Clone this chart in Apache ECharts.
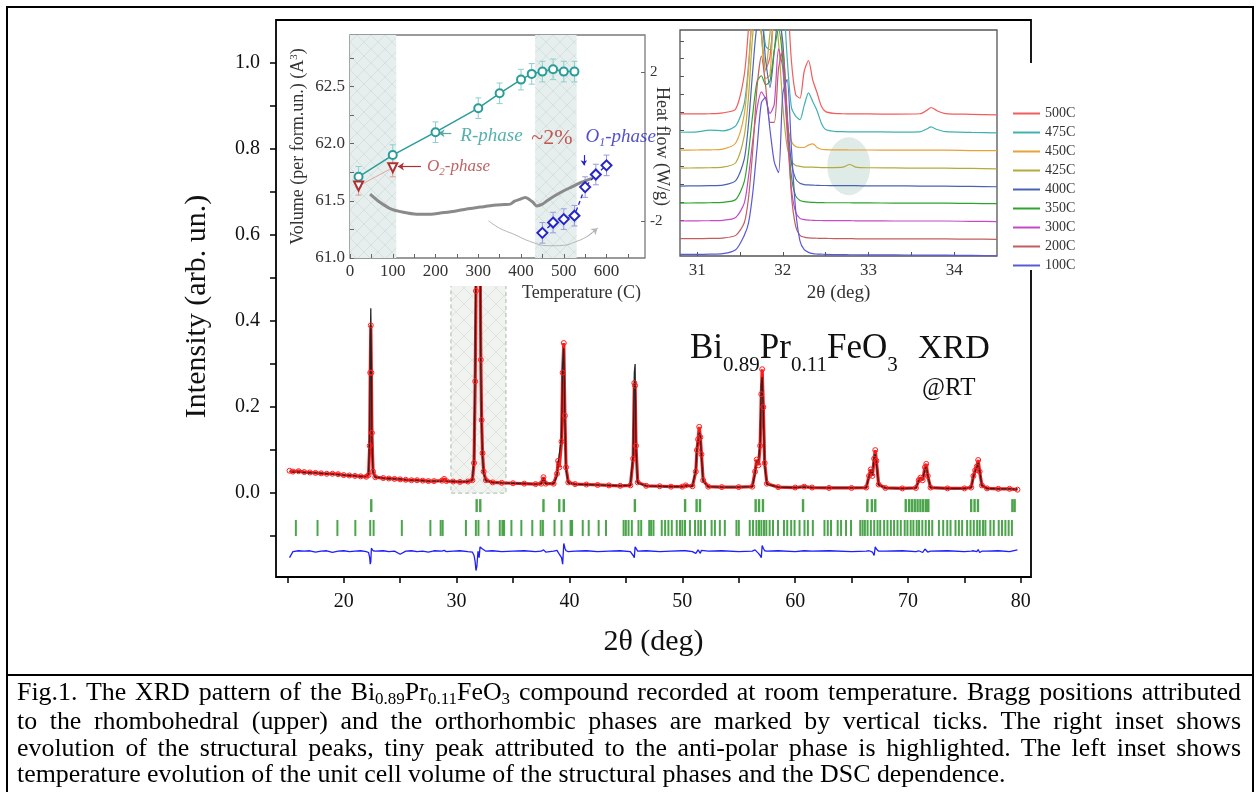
<!DOCTYPE html>
<html>
<head>
<meta charset="utf-8">
<title>Bi0.89Pr0.11FeO3 XRD</title>
<script src="https://cdn.jsdelivr.net/npm/echarts@6.0.0/dist/echarts.min.js"></script>
<style>
  html, body { margin: 0; padding: 0; background: #fff; }
  #page { position: relative; width: 1259px; height: 792px; overflow: hidden; }
  #chart { position: absolute; left: 0; top: 0; width: 1259px; height: 792px; }
  .rule { position: absolute; background: #000; }
  #caption { position: absolute; left: 17px; top: 679px; width: 1224px;
    font-family: 'Liberation Serif', serif; font-size: 25.9px; line-height: 26.3px; color: #000; }
  #caption div { text-align: justify; text-align-last: justify; white-space: nowrap; }
  #caption div.last { text-align-last: left; }
  #caption sub { font-size: 17px; vertical-align: baseline; position: relative; top: 4px; }
</style>
</head>
<body>
<div id="page">
  <div id="chart"></div>
  <div class="rule" style="left:6px;top:6px;width:2px;height:786px"></div>
  <div class="rule" style="left:6px;top:6px;width:1248px;height:2px"></div>
  <div class="rule" style="left:1252px;top:6px;width:2px;height:786px"></div>
  <div class="rule" style="left:6px;top:674px;width:1248px;height:2px"></div>
  <div id="caption">
    <div>Fig.1. The XRD pattern of the Bi<sub>0.89</sub>Pr<sub>0.11</sub>FeO<sub>3</sub> compound recorded at room temperature. Bragg positions attributed</div>
    <div>to the rhombohedral (upper) and the orthorhombic phases are marked by vertical ticks. The right inset shows</div>
    <div>evolution of the structural peaks, tiny peak attributed to the anti-polar phase is highlighted. The left inset shows</div>
    <div class="last">temperature evolution of the unit cell volume of the structural phases and the DSC dependence.</div>
  </div>
</div>
<script>
// ---- main pattern: 2theta, observed, calculated, difference
const xrdTheta = [15.2, 15.5, 16.0, 16.5, 17.0, 17.5, 18.0, 18.5, 19.0, 19.5, 20.0, 20.5, 21.0, 21.5, 22.0, 22.2, 22.3, 22.35, 22.4, 22.45,
  22.5, 22.6, 22.8, 23.5, 24.0, 24.5, 25.0, 25.5, 26.0, 26.5, 27.0, 27.5, 28.0, 28.7, 28.9, 29.1, 29.7, 30.3, 31.0, 31.4,
  31.55, 31.65, 31.72, 31.8, 31.9, 32.0, 32.08, 32.15, 32.22, 32.3, 32.4, 32.6, 33.2, 34.0, 35.0, 36.0, 37.0, 37.5, 37.7, 37.9,
  38.6, 38.9, 39.0, 39.1, 39.3, 39.4, 39.5, 39.6, 39.7, 39.9, 40.5, 41.5, 42.5, 43.5, 44.5, 45.4, 45.65, 45.75, 45.82, 45.9,
  46.05, 46.8, 48.0, 49.0, 50.0, 50.3, 50.9, 51.2, 51.3, 51.4, 51.5, 51.6, 51.7, 51.85, 52.3, 53.5, 55.0, 56.2, 56.45, 56.6,
  56.75, 56.9, 57.0, 57.08, 57.18, 57.3, 57.5, 58.5, 60.0, 60.8, 61.5, 63.0, 65.0, 66.3, 66.55, 66.7, 66.85, 67.0, 67.1, 67.2,
  67.4, 68.0, 69.5, 70.7, 70.95, 71.1, 71.3, 71.5, 71.62, 71.75, 72.0, 73.5, 75.0, 75.6, 75.8, 75.95, 76.1, 76.22, 76.35, 76.55,
  77.0, 78.0, 79.0, 79.7];
const xrdObs = [0.052, 0.050, 0.051, 0.049, 0.048, 0.047, 0.046, 0.045, 0.045, 0.044, 0.042, 0.041, 0.040, 0.039, 0.038, 0.042, 0.110, 0.280, 0.390, 0.280,
  0.140, 0.050, 0.037, 0.035, 0.034, 0.033, 0.032, 0.031, 0.030, 0.030, 0.029, 0.028, 0.028, 0.029, 0.033, 0.028, 0.027, 0.026, 0.027, 0.030,
  0.070, 0.260, 0.470, 0.850, 1.000, 0.900, 0.600, 0.310, 0.170, 0.093, 0.050, 0.030, 0.025, 0.024, 0.023, 0.022, 0.021, 0.022, 0.037, 0.022,
  0.022, 0.045, 0.075, 0.060, 0.120, 0.280, 0.349, 0.180, 0.060, 0.025, 0.021, 0.020, 0.019, 0.018, 0.017, 0.018, 0.080, 0.256, 0.250, 0.110,
  0.025, 0.017, 0.016, 0.015, 0.015, 0.018, 0.016, 0.050, 0.100, 0.125, 0.154, 0.130, 0.090, 0.030, 0.015, 0.014, 0.014, 0.015, 0.050, 0.078,
  0.065, 0.110, 0.230, 0.288, 0.200, 0.070, 0.022, 0.014, 0.013, 0.015, 0.013, 0.012, 0.012, 0.013, 0.040, 0.055, 0.040, 0.080, 0.100, 0.075,
  0.020, 0.012, 0.011, 0.012, 0.030, 0.036, 0.030, 0.060, 0.068, 0.040, 0.013, 0.011, 0.011, 0.013, 0.040, 0.053, 0.062, 0.077, 0.050, 0.018,
  0.011, 0.010, 0.010, 0.008];
const xrdCalc = [0.050, 0.049, 0.049, 0.048, 0.047, 0.047, 0.046, 0.045, 0.044, 0.043, 0.042, 0.041, 0.040, 0.039, 0.039, 0.045, 0.140, 0.330, 0.430, 0.300,
  0.120, 0.048, 0.037, 0.035, 0.034, 0.033, 0.033, 0.031, 0.030, 0.030, 0.029, 0.028, 0.028, 0.028, 0.031, 0.028, 0.027, 0.026, 0.027, 0.031,
  0.080, 0.300, 0.560, 0.900, 1.000, 0.920, 0.580, 0.290, 0.160, 0.085, 0.045, 0.029, 0.025, 0.024, 0.023, 0.022, 0.021, 0.022, 0.034, 0.022,
  0.022, 0.040, 0.070, 0.066, 0.130, 0.300, 0.337, 0.170, 0.055, 0.024, 0.021, 0.020, 0.019, 0.018, 0.017, 0.018, 0.090, 0.280, 0.300, 0.100,
  0.024, 0.017, 0.016, 0.015, 0.015, 0.017, 0.016, 0.055, 0.105, 0.120, 0.140, 0.135, 0.085, 0.028, 0.015, 0.014, 0.014, 0.015, 0.045, 0.075,
  0.070, 0.120, 0.250, 0.270, 0.190, 0.065, 0.021, 0.014, 0.013, 0.014, 0.013, 0.012, 0.012, 0.013, 0.038, 0.052, 0.042, 0.085, 0.090, 0.070,
  0.019, 0.012, 0.011, 0.012, 0.028, 0.035, 0.032, 0.055, 0.062, 0.042, 0.013, 0.011, 0.011, 0.013, 0.038, 0.050, 0.060, 0.072, 0.052, 0.018,
  0.011, 0.010, 0.010, 0.009];
const xrdDiff = [-0.150, -0.136, -0.134, -0.135, -0.134, -0.137, -0.135, -0.134, -0.138, -0.135, -0.134, -0.136, -0.135, -0.134, -0.136, -0.138, -0.150, -0.165, -0.160, -0.128,
  -0.125, -0.134, -0.135, -0.134, -0.136, -0.135, -0.142, -0.135, -0.134, -0.136, -0.135, -0.137, -0.134, -0.135, -0.133, -0.136, -0.135, -0.134, -0.136, -0.137,
  -0.145, -0.160, -0.180, -0.170, -0.135, -0.150, -0.125, -0.122, -0.128, -0.130, -0.134, -0.135, -0.134, -0.136, -0.135, -0.134, -0.136, -0.135, -0.132, -0.137,
  -0.135, -0.133, -0.130, -0.142, -0.150, -0.165, -0.117, -0.128, -0.134, -0.136, -0.135, -0.134, -0.136, -0.135, -0.134, -0.136, -0.145, -0.150, -0.125, -0.128,
  -0.135, -0.134, -0.136, -0.135, -0.134, -0.134, -0.136, -0.140, -0.138, -0.132, -0.128, -0.140, -0.133, -0.135, -0.135, -0.134, -0.136, -0.135, -0.132, -0.134,
  -0.140, -0.145, -0.150, -0.122, -0.128, -0.134, -0.135, -0.134, -0.136, -0.134, -0.135, -0.134, -0.136, -0.135, -0.134, -0.133, -0.137, -0.145, -0.125, -0.130,
  -0.135, -0.135, -0.134, -0.136, -0.134, -0.133, -0.138, -0.130, -0.131, -0.137, -0.135, -0.134, -0.136, -0.135, -0.134, -0.133, -0.136, -0.131, -0.138, -0.135,
  -0.135, -0.134, -0.136, -0.132];

// Bragg positions: rhombohedral (upper row) and orthorhombic (lower row)
const braggR = [22.44, 31.78, 32.1, 37.7, 39.1, 39.5, 45.8, 50.25, 51.27, 51.57, 56.5, 56.8, 57.15, 60.7, 66.4, 66.8, 67.1,
  69.8, 70.1, 70.35, 70.6, 70.85, 71.1, 71.35, 71.6, 71.8, 75.6, 75.9, 76.2, 79.25, 79.45];
const braggO = [15.76, 17.68, 19.44, 21.03, 22.35, 22.65, 25.15, 27.68, 28.59, 28.77, 30.83, 31.71, 31.94, 32.83, 33.83, 34.06, 34.21,
  34.86, 35.74, 36.71, 37.45, 37.65, 38.68, 39.3, 40.1, 40.24, 41.18, 41.71, 42.59, 43.24, 44.8, 45.0, 45.24, 45.53, 46.12, 46.36,
  47.07, 47.24, 47.45, 48.18, 48.48, 48.77, 49.07, 49.51, 49.8, 50.01, 50.24, 50.68, 51.13, 51.42, 51.65, 52.01, 52.6, 52.89, 53.33,
  53.77, 54.8, 55.01, 55.98, 56.27, 56.57, 56.8, 57.01, 57.24, 57.45, 57.74, 58.04, 58.48, 59.01, 59.3, 59.65, 59.95, 60.39, 60.83,
  61.13, 61.57, 62.6, 62.89, 63.18, 63.77, 64.07, 64.51, 64.95, 65.77, 65.98, 66.18, 66.42, 66.71, 67.01, 67.3, 67.54, 67.89, 68.18,
  68.48, 68.77, 69.07, 69.36, 69.71, 69.95, 70.24, 70.48, 70.77, 70.98, 71.27, 71.57, 71.86, 72.15, 72.74, 73.12, 73.48, 73.77, 74.21,
  74.51, 74.8, 75.24, 75.54, 75.83, 76.13, 76.36, 76.65, 76.86, 77.3, 77.6, 78.04, 78.33, 78.63, 78.92, 79.21];
const zoomBox = [29.5, 34.38, 0, 0.6];   // hatched region shown in the right inset

const mainXLabels = [20, 30, 40, 50, 60, 70, 80];
const mainXTicks = [15, 20, 25, 30, 35, 40, 45, 50, 55, 60, 65, 70, 75, 80];
const mainYLabels = [0, 0.2, 0.4, 0.6, 0.8, 1.0];
const mainYTicks = [-0.1, 0, 0.1, 0.2, 0.3, 0.4, 0.5, 0.6, 0.7, 0.8, 0.9, 1.0];

// ---- left inset: cell volume vs temperature, DSC
const rTemp = [20, 100, 200, 300, 350, 400, 425, 450, 475, 500, 525];
const rVol = [61.71, 61.90, 62.10, 62.31, 62.44, 62.56, 62.61, 62.63, 62.65, 62.63, 62.63];
const rErr = [0.09, 0.09, 0.09, 0.09, 0.09, 0.09, 0.09, 0.09, 0.09, 0.09, 0.09];
const o2Temp = [20, 100];
const o2Vol = [61.63, 61.79];
const o2Err = [0.08, 0.08];
const o1Temp = [450, 475, 500, 525, 550, 575, 600];
const o1Vol = [61.22, 61.31, 61.34, 61.37, 61.62, 61.73, 61.81];
const o1Err = [0.09, 0.09, 0.09, 0.09, 0.09, 0.09, 0.09];
const dscTemp = [47, 70, 94, 125, 156, 190, 211, 245, 273, 305, 336, 360, 375, 385, 395, 410, 420, 428, 437, 450, 461, 480, 500, 520, 539, 552, 566];
const dscFlow = [-1.28, -1.5, -1.67, -1.77, -1.82, -1.82, -1.79, -1.74, -1.68, -1.63, -1.58, -1.56, -1.55, -1.47, -1.43, -1.37, -1.43, -1.5, -1.6, -1.55, -1.46, -1.32, -1.19, -1.08, -0.97, -0.92, -0.86];
const arcTemp = [324, 350, 383, 420, 461, 500, 524, 555, 579];
const arcFlow = [-2.0, -2.2, -2.36, -2.55, -2.67, -2.66, -2.58, -2.42, -2.2];
const phaseBands = [[0, 108], [433, 530]];
const tempLabels = [0, 100, 200, 300, 400, 500, 600];
const tempTicks = [0, 50, 100, 150, 200, 250, 300, 350, 400, 450, 500, 550, 600, 650];
const volLabels = [61.0, 61.5, 62.0, 62.5];
const volTicks = [61.0, 61.25, 61.5, 61.75, 62.0, 62.25, 62.5, 62.75];
const flowLabels = [-2, 2];

// ---- right inset: structural peaks at several temperatures
const peakTheta = [30.8, 31.0, 31.15, 31.3, 31.45, 31.55, 31.6, 31.65, 31.7, 31.75, 31.8, 31.85, 31.9, 31.95, 32.0, 32.05, 32.1, 32.15, 32.2,
  32.25, 32.3, 32.35, 32.4, 32.45, 32.5, 32.6, 32.7, 32.78, 32.85, 33.0, 33.3, 33.6, 33.68, 33.73, 33.8, 33.9, 34.2, 34.5];
const seriesNames = ['500C', '475C', '450C', '425C', '400C', '350C', '300C', '200C', '100C'];
const seriesOffset = [7.9, 6.9, 5.9, 4.9, 3.9, 2.95, 1.95, 0.95, 0.05];
const peak500 = [0.02, 0.02, 0.03, 0.08, 0.3, 2.2, 4.8, 7.5, 8, 4.5, 2.5, 3.2, 6, 8.5, 9, 7, 3, 1.1, 0.9, 2.4, 3.0, 1.9, 1.2, 0.45, 0.15, 0.05, 0.03, 0.02, 0.02, 0.02, 0.01, 0.03, 0.22, 0.38, 0.2, 0.04, 0, -0.03];
const peak475 = [0, 0.02, 0.12, 0.08, 0.35, 1.6, 3.8, 7, 9, 7, 4.8, 4.6, 7, 9, 8, 4.2, 1.4, 0.9, 0.7, 1.5, 2.2, 1.7, 1.2, 0.5, 0.15, 0.05, 0.03, 0.02, 0.02, 0.02, 0.01, 0.02, 0.18, 0.3, 0.15, 0.03, -0.01, -0.03];
const peak450 = [0, 0.01, 0.02, 0.06, 0.4, 2, 4.5, 8, 9, 6.5, 4, 4.2, 8, 8.5, 5, 1.5, 0.5, 0.2, 0.15, 0.15, 0.28, 0.35, 0.15, 0.05, 0.03, 0.02, 0.02, 0.01, 0.01, 0.01, 0, 0, 0, 0, 0, 0, -0.02, -0.03];
const peak425 = [0, 0.01, 0.02, 0.05, 0.3, 1.8, 4, 7.5, 9, 7.5, 5.4, 7.5, 9, 7, 3.5, 1.2, 0.4, 0.15, 0.1, 0.06, 0.05, 0.05, 0.04, 0.03, 0.03, 0.03, 0.05, 0.2, 0.06, 0.02, 0.01, 0, 0, 0, 0, 0, -0.02, -0.04];
const peak400 = [0, 0.01, 0.02, 0.05, 0.3, 1.5, 3.5, 6.5, 9, 9.2, 7, 5.5, 7.5, 9.5, 8, 4, 1.3, 0.4, 0.15, 0.08, 0.06, 0.05, 0.04, 0.03, 0.03, 0.02, 0.02, 0.02, 0.02, 0.01, 0.01, 0, 0, 0, 0, 0, -0.02, -0.04];
const peak350 = [0, 0.01, 0.02, 0.04, 0.2, 1.2, 2.8, 5, 6.8, 7.1, 6.6, 6.8, 8.5, 9.7, 8, 4.5, 1.5, 0.4, 0.15, 0.08, 0.05, 0.04, 0.03, 0.03, 0.02, 0.02, 0.02, 0.02, 0.01, 0.01, 0, 0, 0, 0, 0, 0, -0.02, -0.03];
const peak300 = [0, 0.01, 0.02, 0.04, 0.2, 1.0, 2.5, 4.5, 6.3, 7.2, 6.8, 6.0, 6.5, 9.6, 8.5, 5, 1.8, 0.5, 0.15, 0.08, 0.05, 0.04, 0.03, 0.03, 0.02, 0.02, 0.02, 0.02, 0.01, 0.01, 0, 0, 0, 0, 0, 0, -0.02, -0.03];
const peak200 = [0.02, 0.02, 0.03, 0.05, 0.2, 0.9, 2.3, 5, 8.5, 10.2, 8.5, 6.5, 6.5, 9.5, 10.5, 7, 2.5, 0.7, 0.2, 0.1, 0.06, 0.05, 0.04, 0.03, 0.03, 0.02, 0.02, 0.02, 0.01, 0.01, 0, 0, 0, 0, 0, 0, -0.01, -0.02];
const peak100 = [0.04, 0.04, 0.05, 0.08, 0.3, 1.1, 1.8, 3.5, 6, 8.5, 8.8, 7, 5.2, 4.6, 9, 9.8, 6, 2.5, 0.8, 0.3, 0.15, 0.08, 0.06, 0.05, 0.04, 0.03, 0.03, 0.02, 0.02, 0.01, 0.01, 0, 0, 0, 0, 0, -0.02, -0.04];
const peakCurves = [peak500, peak475, peak450, peak425, peak400, peak350, peak300, peak200, peak100];
const peakColors = ['#f25c5c', '#3fb2b0', '#e6a23c', '#b5aa3e', '#4b63b5', '#2ea32e', '#c44bc4', '#bf5f5f', '#5a5ad8'];
const antiPolar = [32.77, 5.0];
const thetaLabels = [31, 32, 33, 34];
const thetaTicks = [31, 31.5, 32, 32.5, 33, 33.5, 34];
const stackTicks = [1, 2, 3, 4, 5, 6, 7, 8, 9, 10, 11, 12];

const SERIF = 'Liberation Serif';

function hatch(bg, line, size) {
  const c = document.createElement('canvas');
  c.width = c.height = size;
  const g = c.getContext('2d');
  g.fillStyle = bg;
  g.fillRect(0, 0, size, size);
  g.strokeStyle = line;
  g.lineWidth = 1;
  g.beginPath();
  g.moveTo(0, 0); g.lineTo(size, size);
  g.moveTo(size, 0); g.lineTo(0, size);
  g.stroke();
  return { image: c, repeat: 'repeat' };
}

const boxFill = hatch('#f1f3f1', '#dde3dd', 16);
const bandFill = hatch('#e6efed', '#d3e2df', 14);

function renderBox(params, api) {
  const a = api.coord([api.value(0), api.value(2)]);
  const b = api.coord([api.value(1), api.value(3)]);
  return {
    type: 'rect',
    shape: { x: a[0], y: b[1], width: b[0] - a[0], height: a[1] - b[1] },
    style: { fill: boxFill, stroke: '#a8bca8', lineWidth: 1, lineDash: [4, 3] }
  };
}

function renderBand(params, api) {
  const cs = params.coordSys;
  const a = api.coord([api.value(0), 61.5]);
  const b = api.coord([api.value(1), 61.5]);
  return {
    type: 'rect',
    shape: { x: a[0], y: cs.y, width: b[0] - a[0], height: cs.height },
    style: { fill: bandFill }
  };
}

function renderErr(color) {
  return function (params, api) {
    const top = api.coord([api.value(0), api.value(2)]);
    const bot = api.coord([api.value(0), api.value(1)]);
    const st = { stroke: color, lineWidth: 1 };
    return {
      type: 'group',
      children: [
        { type: 'line', shape: { x1: top[0], y1: top[1], x2: bot[0], y2: bot[1] }, style: st },
        { type: 'line', shape: { x1: top[0] - 3, y1: top[1], x2: top[0] + 3, y2: top[1] }, style: st },
        { type: 'line', shape: { x1: bot[0] - 3, y1: bot[1], x2: bot[0] + 3, y2: bot[1] }, style: st }
      ]
    };
  };
}

const zip = (xs, ys) => xs.map((x, i) => [x, ys[i]]);
const errData = (xs, ys, es) => xs.map((x, i) => [x, ys[i] - es[i], ys[i] + es[i]]);
const arrow = (p, q, color) => [{ coord: p, lineStyle: { color: color } }, { coord: q }];

const subRich = (size, color) => ({
  t: { fontSize: size, lineHeight: size, verticalAlign: 'top', fontStyle: 'italic', color: color, fontFamily: SERIF },
  s: { fontSize: Math.round(size * 0.62), lineHeight: Math.round(size * 0.62), padding: [Math.round(size * 0.55), 0, 0, 0], verticalAlign: 'top', fontStyle: 'italic', color: color, fontFamily: SERIF },
  n: { fontSize: size + 2, lineHeight: size, verticalAlign: 'top', color: color, fontFamily: SERIF }
});

const notes = [
  { at: [258, 62.07], text: '{t|R-phase}', size: 19, color: '#2a9d9a' },
  { at: [180, 61.80], text: '{t|O}{s|2}{t|-phase}', size: 17, color: '#b03a3a' },
  { at: [424, 62.06], text: '{n|~2%}', size: 20, color: '#b8302a' },
  { at: [551, 62.06], text: '{t|O}{s|1}{t|-phase}', size: 19, color: '#2626c0' }
];

const chart = echarts.init(document.getElementById('chart'));

const series = [
  { type: 'custom', xAxisIndex: 0, yAxisIndex: 0, z: 1, silent: true, renderItem: renderBox, data: [zoomBox] },
  {
    name: 'obs', type: 'line', xAxisIndex: 0, yAxisIndex: 0, z: 2,
    data: zip(xrdTheta, xrdObs), symbol: 'circle', symbolSize: 5, showAllSymbol: true,
    itemStyle: { color: 'rgba(0,0,0,0)', borderColor: '#ff2020', borderWidth: 1 },
    lineStyle: { color: '#ff1a1a', width: 3.2 }
  },
  {
    name: 'diff', type: 'line', xAxisIndex: 0, yAxisIndex: 0, z: 2,
    data: zip(xrdTheta, xrdDiff), symbol: 'none', lineStyle: { color: '#1e1eff', width: 1.3 }
  },
  {
    name: 'braggR', type: 'scatter', xAxisIndex: 0, yAxisIndex: 0, z: 2, silent: true,
    data: braggR.map(t => [t, -0.029]), symbol: 'rect', symbolSize: [2.4, 13], itemStyle: { color: '#1f8f1f' }
  },
  {
    name: 'braggO', type: 'scatter', xAxisIndex: 0, yAxisIndex: 0, z: 2, silent: true,
    data: braggO.map(t => [t, -0.081]), symbol: 'rect', symbolSize: [2, 16], itemStyle: { color: '#1f8f1f' }
  },
  {
    name: 'calc', type: 'line', xAxisIndex: 0, yAxisIndex: 0, z: 2,
    data: zip(xrdTheta, xrdCalc), symbol: 'none', lineStyle: { color: '#262626', width: 1.3 }
  },

  // left inset
  { type: 'custom', xAxisIndex: 1, yAxisIndex: 1, z: 5, silent: true, renderItem: renderBand, data: phaseBands },
  { type: 'custom', xAxisIndex: 1, yAxisIndex: 1, z: 6, silent: true, renderItem: renderErr('#8ccfcc'), data: errData(rTemp, rVol, rErr), encode: { x: 0, y: [1, 2] } },
  { type: 'custom', xAxisIndex: 1, yAxisIndex: 1, z: 6, silent: true, renderItem: renderErr('#d89a9a'), data: errData(o2Temp, o2Vol, o2Err), encode: { x: 0, y: [1, 2] } },
  { type: 'custom', xAxisIndex: 1, yAxisIndex: 1, z: 6, silent: true, renderItem: renderErr('#9a9ae0'), data: errData(o1Temp, o1Vol, o1Err), encode: { x: 0, y: [1, 2] } },
  {
    name: 'DSC', type: 'line', xAxisIndex: 1, yAxisIndex: 2, z: 6, smooth: 0.3,
    data: zip(dscTemp, dscFlow), symbol: 'none', lineStyle: { color: '#8a8a8a', width: 3 }
  },
  {
    name: 'arc', type: 'line', xAxisIndex: 1, yAxisIndex: 2, z: 6, smooth: 0.4,
    data: zip(arcTemp, arcFlow), symbol: 'none', lineStyle: { color: '#b5b5b5', width: 1 },
    markLine: {
      silent: true, symbol: ['none', 'arrow'], symbolSize: 6, label: { show: false },
      lineStyle: { color: '#b5b5b5', width: 1, type: 'solid' },
      data: [arrow([arcTemp[arcTemp.length - 2], arcFlow[arcFlow.length - 2]], [arcTemp[arcTemp.length - 1], arcFlow[arcFlow.length - 1]], '#b5b5b5')]
    }
  },
  {
    name: 'R-phase', type: 'line', xAxisIndex: 1, yAxisIndex: 1, z: 7,
    data: zip(rTemp, rVol), symbol: 'emptyCircle', symbolSize: 8,
    itemStyle: { color: '#2a9d9a', borderWidth: 1.5 }, lineStyle: { color: '#2a9d9a', width: 1.5 },
    markLine: {
      silent: true, symbol: ['none', 'arrow'], symbolSize: 6, label: { show: false },
      lineStyle: { width: 1.2, type: 'solid' },
      data: [
        arrow([237, 62.09], [207, 62.09], '#5aa8a5'),
        arrow([488, 62.25], [488, 62.57], '#c0392b'),
        arrow([488, 61.97], [488, 61.66], '#c0392b')
      ]
    }
  },
  {
    name: 'O2-phase', type: 'line', xAxisIndex: 1, yAxisIndex: 1, z: 7,
    data: zip(o2Temp, o2Vol), symbol: 'emptyTriangle', symbolRotate: 180, symbolSize: 9,
    itemStyle: { color: '#b03030', borderWidth: 1.5 }, lineStyle: { color: '#e3a3a3', width: 1 },
    markLine: {
      silent: true, symbol: ['none', 'arrow'], symbolSize: 6, label: { show: false },
      lineStyle: { width: 1.2, type: 'solid' },
      data: [arrow([166, 61.80], [112, 61.80], '#b03030')]
    }
  },
  {
    name: 'O1-phase', type: 'line', xAxisIndex: 1, yAxisIndex: 1, z: 7,
    data: zip(o1Temp, o1Vol), symbol: 'emptyDiamond', symbolSize: 10,
    itemStyle: { color: '#2626c8', borderWidth: 1.5 }, lineStyle: { color: '#2626c8', width: 1.3, type: [4, 3] },
    markLine: {
      silent: true, symbol: ['none', 'arrow'], symbolSize: 5, label: { show: false },
      lineStyle: { width: 1.2, type: 'solid' },
      data: [arrow([547, 61.90], [547, 61.81], '#2626c8')]
    }
  },
  {
    name: 'notes', type: 'scatter', xAxisIndex: 1, yAxisIndex: 1, z: 8, silent: true, symbolSize: 0,
    data: notes.map(n => ({
      value: n.at,
      label: { show: true, position: 'right', distance: 0, formatter: n.text, rich: subRich(n.size, n.color) }
    }))
  },

  // right inset
  {
    name: 'anti-polar', type: 'scatter', xAxisIndex: 2, yAxisIndex: 3, z: 5, silent: true,
    data: [antiPolar], symbol: 'circle', symbolSize: [43, 58], itemStyle: { color: 'rgba(150,188,178,0.38)' }
  }
].concat(seriesNames.map((name, i) => ({
  name: name, type: 'line', xAxisIndex: 2, yAxisIndex: 3, z: 6, smooth: 0.25,
  data: peakTheta.map((t, j) => [t, peakCurves[i][j] + seriesOffset[i]]),
  symbol: 'none', itemStyle: { color: peakColors[i] }, lineStyle: { color: peakColors[i], width: 1.2 }
})));

const insetTick = (values, color) => ({ inside: true, length: 4, customValues: values, lineStyle: { color: color, width: 1 } });

chart.setOption({
  animation: false,
  textStyle: { fontFamily: SERIF },
  grid: [
    { left: 276, top: 20, width: 755, height: 557, show: true, z: 0, borderColor: '#000', borderWidth: 1.8, backgroundColor: 'rgba(0,0,0,0)' },
    { left: 350, top: 35, width: 295, height: 223, show: true, z: 4, borderColor: '#7a7a7a', borderWidth: 1.3, backgroundColor: '#fff' },
    { left: 680, top: 30, width: 317, height: 226, show: true, z: 4, borderColor: '#555', borderWidth: 1.3, backgroundColor: '#fff' }
  ],
  xAxis: [
    {
      gridIndex: 0, type: 'value', min: 14, max: 80.9,
      axisLine: { show: false, onZero: false }, splitLine: { show: false },
      axisTick: { customValues: mainXTicks, length: 6, lineStyle: { color: '#000', width: 1.5 } },
      axisLabel: { customValues: mainXLabels, fontSize: 20, color: '#111', margin: 15 },
      name: '2θ (deg)', nameLocation: 'middle', nameGap: 50,
      nameTextStyle: { fontSize: 30, color: '#111' }
    },
    {
      gridIndex: 1, type: 'value', min: 0, max: 690, z: 5,
      axisLine: { show: false, onZero: false }, splitLine: { show: false },
      axisTick: insetTick(tempTicks, '#666'),
      axisLabel: { customValues: tempLabels, fontSize: 17, color: '#333', margin: 5 },
      name: 'Temperature (C)', nameLocation: 'middle', nameGap: 26,
      nameTextStyle: { fontSize: 18, color: '#333', padding: [0, 0, 0, 168] }
    },
    {
      gridIndex: 2, type: 'value', min: 30.8, max: 34.5, z: 5,
      axisLine: { show: false, onZero: false }, splitLine: { show: false },
      axisTick: insetTick(thetaTicks, '#555'),
      axisLabel: { customValues: thetaLabels, fontSize: 17, color: '#333', margin: 6 },
      name: '2θ (deg)', nameLocation: 'middle', nameGap: 28,
      nameTextStyle: { fontSize: 19, color: '#333' }
    }
  ],
  yAxis: [
    {
      gridIndex: 0, type: 'value', min: -0.195, max: 1.1,
      axisLine: { show: false, onZero: false }, splitLine: { show: false },
      axisTick: { customValues: mainYTicks, length: 6, lineStyle: { color: '#000', width: 1.5 } },
      axisLabel: { customValues: mainYLabels, formatter: v => v.toFixed(1), fontSize: 20, color: '#111', margin: 16 },
      name: 'Intensity (arb. un.)', nameLocation: 'middle', nameGap: 64,
      nameTextStyle: { fontSize: 30, color: '#111', padding: [0, 16, 0, 0] }
    },
    {
      gridIndex: 1, type: 'value', min: 61.0, max: 62.95, z: 5,
      axisLine: { show: false, onZero: false }, splitLine: { show: false },
      axisTick: insetTick(volTicks, '#666'),
      axisLabel: { customValues: volLabels, formatter: v => v.toFixed(1), fontSize: 17, color: '#333', margin: 5 },
      name: 'Volume (per form.un.) (A{sup|3})', nameLocation: 'middle', nameGap: 43,
      nameTextStyle: { fontSize: 18, color: '#333', rich: { sup: { fontSize: 11, verticalAlign: 'top', lineHeight: 11 } } }
    },
    {
      gridIndex: 1, type: 'value', position: 'right', min: -3, max: 3, z: 5,
      axisLine: { show: false, onZero: false }, splitLine: { show: false },
      axisTick: insetTick(flowLabels, '#666'),
      axisLabel: { customValues: flowLabels, formatter: v => String(v), fontSize: 15, color: '#333', margin: 5 },
      name: 'Heat flow (W/g)', nameLocation: 'middle', nameGap: 8, nameRotate: -90, nameMoveOverlap: false,
      nameTextStyle: { fontSize: 18, color: '#333' }
    },
    {
      gridIndex: 2, type: 'value', min: 0, max: 12.6, z: 5,
      axisLine: { show: false, onZero: false }, splitLine: { show: false },
      axisTick: insetTick(stackTicks, '#555'),
      axisLabel: { show: false }
    }
  ],
  legend: {
    data: seriesNames, orient: 'vertical', left: 1008, top: 101, z: 6,
    icon: 'rect', itemWidth: 27, itemHeight: 2, itemGap: 4,
    textStyle: { fontSize: 14, color: '#333', fontFamily: SERIF, lineHeight: 15 },
    selectedMode: false
  },
  graphic: [
    { type: 'rect', z: 3, silent: true, shape: { x: 288, y: 22, width: 380, height: 264 }, style: { fill: '#fff' } },
    { type: 'rect', z: 3, silent: true, shape: { x: 668, y: 22, width: 332, height: 287 }, style: { fill: '#fff' } },
    { type: 'rect', z: 3, silent: true, shape: { x: 1000, y: 63, width: 75, height: 207 }, style: { fill: '#fff' } },
    {
      type: 'text', z: 3, silent: true, x: 690, y: 331,
      style: {
        text: '{b|Bi}{s|0.89}{b|Pr}{s|0.11}{b|FeO}{s|3}', align: 'left', verticalAlign: 'top', fill: '#111',
        rich: {
          b: { fontSize: 35, lineHeight: 35, verticalAlign: 'top', fontFamily: SERIF, color: '#111' },
          s: { fontSize: 21, lineHeight: 21, padding: [24, 0, 0, 0], verticalAlign: 'top', fontFamily: SERIF, color: '#111' }
        }
      }
    },
    {
      type: 'text', z: 3, silent: true, x: 918, y: 332,
      style: { text: 'XRD', fontSize: 34, lineHeight: 34, fontFamily: SERIF, fill: '#111', align: 'left', verticalAlign: 'top' }
    },
    {
      type: 'text', z: 3, silent: true, x: 922, y: 376,
      style: { text: '@RT', fontSize: 25, lineHeight: 25, fontFamily: SERIF, fill: '#111', align: 'left', verticalAlign: 'top' }
    }
  ],
  series: series
});
</script>
</body>
</html>
